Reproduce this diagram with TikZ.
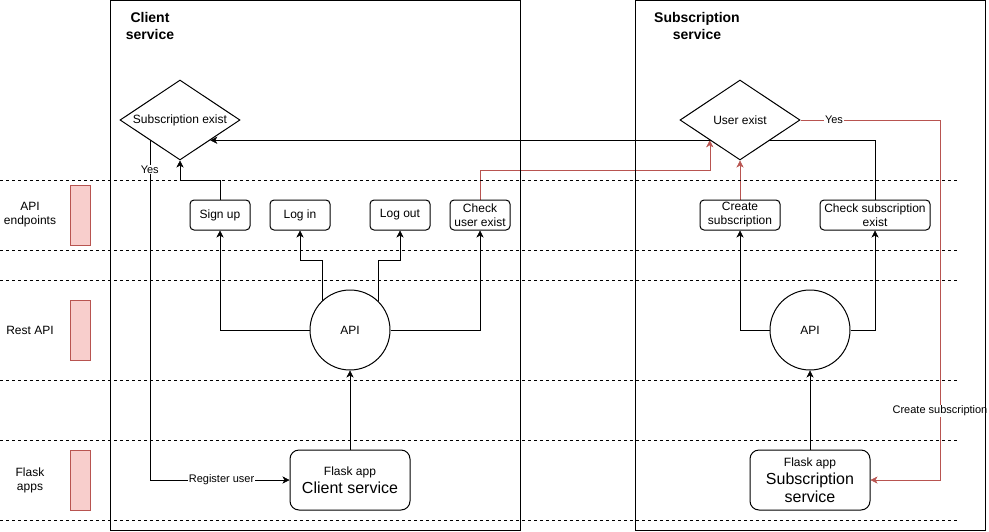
\documentclass[tikz,border=0pt]{standalone}
\usepackage{fontspec}
\setmainfont{Liberation Sans}
\usetikzlibrary{shapes.geometric,arrows.meta,backgrounds}
\definecolor{redline}{HTML}{B85450}
\definecolor{layerfill}{HTML}{F8CECC}
\newcommand{\txt}{\fontsize{12}{14}\selectfont}
\newcommand{\lbltxt}{\fontsize{11}{13}\selectfont}
\newcommand{\bigtxt}{\fontsize{16}{18}\selectfont}
\newcommand{\titletxt}{\fontsize{14}{17}\selectfont\bfseries}
\begin{document}
\begin{tikzpicture}[x=1pt, y=-1pt, line width=1pt, >={Stealth[length=7pt,width=7pt,inset=2pt]},
  box/.style={draw, rounded corners=4pt, fill=white, font=\txt, align=center, inner sep=0pt, minimum height=30pt},
  flask/.style={draw, rounded corners=9pt, fill=white, font=\bigtxt, align=center, inner sep=0pt, minimum width=120pt, minimum height=60pt},
  decision/.style={draw, diamond, aspect=1.5, fill=white, font=\txt, inner sep=0pt, minimum width=120pt, minimum height=80pt},
  api/.style={draw, circle, fill=white, font=\txt, inner sep=0pt, minimum size=80pt},
  marker/.style={draw=redline, fill=layerfill, minimum width=20pt, minimum height=60pt, inner sep=0pt},
  lbl/.style={font=\lbltxt, text=black, fill=white, inner sep=1pt},
  sep/.style={dash pattern=on 3pt off 3pt}]
\useasboundingbox (0,0) rectangle (989,531);

% containers
\node[draw, minimum width=410pt, minimum height=530pt, inner sep=0pt] (clientbox) at (315,265) {};
\node[draw, minimum width=350pt, minimum height=530pt, inner sep=0pt] (subsbox) at (810,265) {};
\node[font=\titletxt, align=center] (clienttitle) at (150,25.5) {Client\\service};
\node[font=\titletxt, align=center] (substitle) at (697,25.5) {Subscription\\service};

% layers
\foreach \y in {180,250,280,380,440,520}
  \draw[sep] (0,\y) -- (958,\y);
\node[font=\txt, align=center] (lblendpoints) at (30,215) {API\\endpoints};
\node[font=\txt, align=center] (lblrest) at (30,330) {Rest API};
\node[font=\txt, align=center] (lblflask) at (30,480) {Flask\\apps};
\node[marker] (mkendpoints) at (80,215) {};
\node[marker] (mkrest) at (80,330) {};
\node[marker] (mkflask) at (80,480) {};

% client service
\node[decision] (subex) at (180,120) {Subscription exist};
\node[box, minimum width=60pt] (signup) at (220,215) {Sign up};
\node[box, minimum width=60pt] (login) at (300,215) {Log in};
\node[box, minimum width=60pt] (logout) at (400,215) {Log out};
\node[box, minimum width=60pt] (checku) at (480,215) {Check\\user exist};
\node[api] (capi) at (350,330) {API};
\node[flask] (flaskc) at (350,480) {{\txt Flask app}\\Client service};

% subscription service
\node[decision] (userex) at (740,120) {User exist};
\node[box, minimum width=80pt] (creates) at (740,215) {Create\\subscription};
\node[box, minimum width=110pt] (checks) at (875,215) {Check subscription\\exist};
\node[api] (sapi) at (810,330) {API};
\node[flask] (flasks) at (810,480) {{\txt Flask app}\\Subscription\\service};
\coordinate (redturn) at (940,120);

\begin{pgfonlayer}{background}
\draw[->] (flaskc.north) -- (capi.south);
\draw[->] (capi.west) -| (signup.south);
\draw[->] (capi.134) -- (capi.134 |- 0,260) -| (login.south);
\draw[->] (capi.46) -- (capi.46 |- 0,260) -| (logout.south);
\draw[->] (capi.east) -| (checku.south);
\draw[->] (signup.north) -- (signup.north |- 0,180) -| (subex.south);
\draw[->] (subex.south west) |- node[lbl, pos=0.043] {Yes} node[lbl, pos=0.757] {Register user} (flaskc.west);
\draw[->, redline] (checku.north) -- (checku.north |- 0,170) -| (userex.south west);
\draw[->] (checks.north) |- (subex.south east);
\draw[->, redline] (creates.north) -- (userex.south);
\draw[->] (sapi.west) -| (creates.south);
\draw[->] (sapi.east) -| (checks.south);
\draw[->] (flasks.north) -- (sapi.south);
\draw[->, redline] (userex.east) -- node[lbl, pos=0.24] {Yes} (redturn) |- node[lbl, pos=0.404] {Create subscription} (flasks.east);
\end{pgfonlayer}
\end{tikzpicture}
\end{document}
